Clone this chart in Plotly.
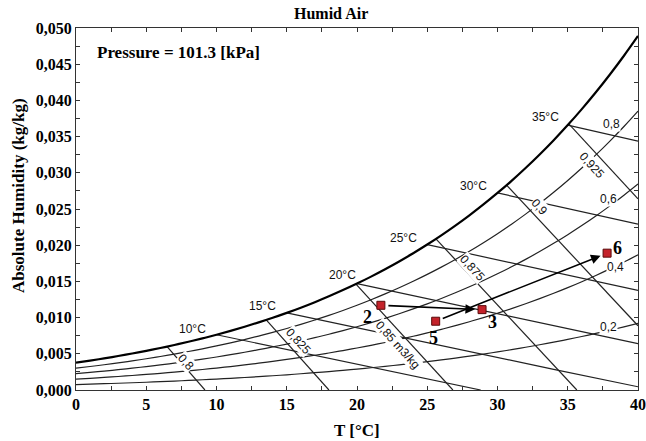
import numpy as np
import plotly.graph_objects as go

# ---------------- data ----------------
P_KPA = 101.3
T_TABLE = list(range(0, 41))
PSAT_KPA = [0.6113, 0.6571, 0.7060, 0.7581, 0.8135, 0.8726, 0.9354, 1.0021, 1.0730, 1.1482,
            1.2282, 1.3129, 1.4028, 1.4981, 1.5989, 1.7057, 1.8188, 1.9383, 2.0647, 2.1982,
            2.3392, 2.4881, 2.6452, 2.8109, 2.9856, 3.1697, 3.3637, 3.5679, 3.7828, 4.0089,
            4.2467, 4.4966, 4.7592, 5.0351, 5.3247, 5.6286, 5.9475, 6.2818, 6.6324, 6.9997,
            7.3844]

RH_LEVELS = [0.2, 0.4, 0.6, 0.8]
RH_LABELS = ["0,2", "0,4", "0,6", "0,8"]
RH_LABEL_T = [37.9, 38.4, 37.9, 38.1]
RH_LABEL_W = [0.0087, 0.0170, 0.0264, 0.0368]

WB_LEVELS = [10, 15, 20, 25, 30, 35]
WB_LABELS = ["10°C", "15°C", "20°C", "25°C", "30°C", "35°C"]
WB_LABEL_T = [8.3, 13.3, 19.0, 23.3, 28.3, 33.4]
WB_LABEL_W = [0.0084, 0.0116, 0.0159, 0.0210, 0.0282, 0.0377]

V_LEVELS = [0.8, 0.825, 0.85, 0.875, 0.9, 0.925]
V_LABELS = ["0,8", "0,825", "0,85 m3/kg", "0,875", "0,9", "0,925"]
V_LABEL_T = [7.8, 15.8, 22.9, 28.2, 33.0, 36.7]
V_LABEL_W = [0.0038, 0.0067, 0.0062, 0.0168, 0.0253, 0.0311]

STATE_NAMES = ["2", "3", "5", "6"]
STATE_T = [21.7, 28.9, 25.6, 37.8]
STATE_W = [0.0117, 0.0111, 0.0095, 0.0189]
STATE_LABEL_DX = [-13, 10, -2, 10]
STATE_LABEL_DY = [-12, -12, -17, 5]
ARROWS = [("2", "3"), ("5", "6")]

X_TICKS = [0, 5, 10, 15, 20, 25, 30, 35, 40]
Y_TICKS = [0.0, 0.005, 0.010, 0.015, 0.020, 0.025, 0.030, 0.035, 0.040, 0.045, 0.050]
Y_TICK_TEXT = ["0,000", "0,005", "0,010", "0,015", "0,020", "0,025", "0,030",
               "0,035", "0,040", "0,045", "0,050"]

# ---------------- psychrometric relations ----------------
T_arr = np.array(T_TABLE, dtype=float)
ps_arr = np.array(PSAT_KPA)


def w_of_pv(pv):
    return 0.622 * pv / (P_KPA - pv)


w_sat = w_of_pv(ps_arr)
RA = 0.287042

LINE = "#222222"
SANS = "Liberation Sans, Arial, sans-serif"
SERIF = "Liberation Serif, Times New Roman, serif"

fig = go.Figure()

# relative humidity curves
for phi in RH_LEVELS:
    fig.add_trace(go.Scatter(x=T_arr, y=w_of_pv(phi * ps_arr), mode="lines",
                             line=dict(color=LINE, width=1.2, shape="spline"),
                             hoverinfo="skip", showlegend=False))

# wet-bulb lines
for twb in WB_LEVELS:
    i = T_TABLE.index(twb)
    ws = w_sat[i]
    A = (2501 - 2.326 * twb) * ws
    t_zero = twb + A / 1.006
    xs = [t for t in T_TABLE if t >= twb and t < t_zero]
    if t_zero < 40:
        xs.append(t_zero)
    xs = np.array(xs, dtype=float)
    ws_line = (A - 1.006 * (xs - twb)) / (2501 + 1.86 * xs - 4.186 * twb)
    ws_line = np.clip(ws_line, 0, None)
    fig.add_trace(go.Scatter(x=xs, y=ws_line, mode="lines",
                             line=dict(color=LINE, width=1.2),
                             hoverinfo="skip", showlegend=False))

# specific volume lines
fvol = (T_arr + 273.15) * (1 + 1.6078 * w_sat)
for v in V_LEVELS:
    C = v * P_KPA / RA
    t_sat = float(np.interp(C, fvol, T_arr))
    w_s = (C / (t_sat + 273.15) - 1) / 1.6078
    t0 = C - 273.15
    if t0 <= 40:
        t1, w1 = t0, 0.0
    else:
        t1, w1 = 40.0, (C / (40 + 273.15) - 1) / 1.6078
    fig.add_trace(go.Scatter(x=[t_sat, t1], y=[w_s, w1], mode="lines",
                             line=dict(color=LINE, width=1.2),
                             hoverinfo="skip", showlegend=False))

# saturation curve
fig.add_trace(go.Scatter(x=T_arr, y=w_sat, mode="lines",
                         line=dict(color="#000000", width=2.2, shape="spline"),
                         hoverinfo="skip", showlegend=False))

# state points
fig.add_trace(go.Scatter(x=STATE_T, y=STATE_W, mode="markers",
                         marker=dict(symbol="square", size=8, color="#c4222a",
                                     line=dict(color="#5a0a0a", width=1)),
                         hoverinfo="skip", showlegend=False))

ann = []
for lab, t, w in zip(RH_LABELS, RH_LABEL_T, RH_LABEL_W):
    ann.append(dict(x=t, y=w, text=lab, showarrow=False,
                    font=dict(family=SANS, size=12, color="#111"),
                    bgcolor="white", borderpad=0))
for lab, t, w in zip(WB_LABELS, WB_LABEL_T, WB_LABEL_W):
    ann.append(dict(x=t, y=w, text=lab, showarrow=False,
                    font=dict(family=SANS, size=12, color="#111")))
for lab, t, w in zip(V_LABELS, V_LABEL_T, V_LABEL_W):
    ann.append(dict(x=t, y=w, text=lab, showarrow=False, textangle=48,
                    font=dict(family=SANS, size=12, color="#111"),
                    bgcolor="white", borderpad=0))

for n, t, w, dx, dy in zip(STATE_NAMES, STATE_T, STATE_W, STATE_LABEL_DX, STATE_LABEL_DY):
    ann.append(dict(x=t, y=w, text=n, showarrow=False, xshift=dx, yshift=dy,
                    font=dict(family=SERIF, size=18, color="#000", weight="bold")))

for a, b in ARROWS:
    ia, ib = STATE_NAMES.index(a), STATE_NAMES.index(b)
    ann.append(dict(x=STATE_T[ib], y=STATE_W[ib], ax=STATE_T[ia], ay=STATE_W[ia],
                    xref="x", yref="y", axref="x", ayref="y", text="",
                    showarrow=True, arrowhead=2, arrowsize=1.2, arrowwidth=1.6,
                    arrowcolor="#000", standoff=7, startstandoff=6))

ann.append(dict(x=1.35, y=0.0466, xref="x", yref="y", text="Pressure = 101.3 [kPa]",
                showarrow=False, xanchor="left", yanchor="middle",
                font=dict(family=SERIF, size=17, color="#000", weight="bold")))
ann.append(dict(x=(331 - 76) / 562, y=1 + 14 / 362, xref="paper", yref="paper",
                text="Humid Air", showarrow=False, xanchor="center", yanchor="middle",
                font=dict(family=SERIF, size=16, color="#000", weight="bold")))
ann.append(dict(x=0.5, y=-40 / 362, xref="paper", yref="paper", text="T [°C]",
                showarrow=False, xanchor="center", yanchor="middle",
                font=dict(family=SERIF, size=17, color="#000", weight="bold")))
ann.append(dict(x=(18 - 76) / 562, y=(390 - 196) / 362, xref="paper", yref="paper",
                text="Absolute Humidity (kg/kg)", textangle=-90, showarrow=False,
                xanchor="center", yanchor="middle",
                font=dict(family=SERIF, size=17, color="#000", weight="bold")))

axis_common = dict(showgrid=False, zeroline=False, showline=True, linecolor="#333",
                   linewidth=1, mirror="allticks", ticks="inside", ticklen=4,
                   tickcolor="#333", automargin=False,
                   tickfont=dict(family=SERIF, size=16, color="#000", weight="bold"))

fig.update_layout(
    width=646, height=441,
    margin=dict(l=76, r=8, t=28, b=51),
    paper_bgcolor="white", plot_bgcolor="white",
    showlegend=False,
    annotations=ann,
    xaxis=dict(range=[0, 40], tickvals=X_TICKS, ticktext=[str(v) for v in X_TICKS],
               minor=dict(dtick=2.5, ticks="inside", ticklen=4, tickcolor="#333"),
               **axis_common),
    yaxis=dict(range=[0, 0.05], tickvals=Y_TICKS, ticktext=Y_TICK_TEXT,
               minor=dict(dtick=0.0025, ticks="inside", ticklen=4, tickcolor="#333"),
               **axis_common),
)

fig.write_html("out.html")
